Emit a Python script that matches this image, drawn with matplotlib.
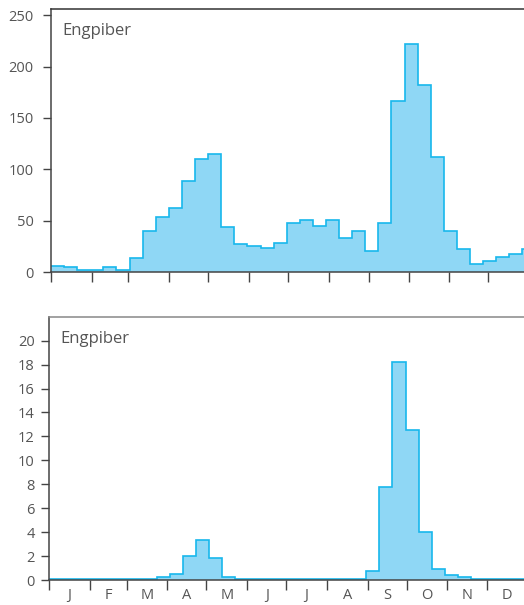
import numpy as np
import matplotlib.pyplot as plt

# 10-day counts across the year (last bin runs past Dec 31)
top_counts = [6, 4.5, 1.5, 1.5, 4.5, 1.5, 14, 40, 54, 62, 89, 110, 115, 44,
              27, 25, 23.5, 28.5, 48, 51, 45, 51, 33, 40, 20.5, 48, 166, 222,
              182, 112, 40, 22.5, 8, 11, 14.5, 17.5, 22.5]
bottom_counts = [0.1, 0.1, 0.1, 0.1, 0.1, 0.1, 0.1, 0.1, 0.25, 0.5, 2.0, 3.35,
                 1.8, 0.25, 0.1, 0.1, 0.1, 0.1, 0.1, 0.1, 0.1, 0.1, 0.1, 0.1,
                 0.75, 7.8, 18.2, 12.5, 4.0, 0.9, 0.4, 0.25, 0.1, 0.1, 0.1,
                 0.1, 0.1]
site = "Engpiber"
month_labels = ["J", "F", "M", "A", "M", "J", "J", "A", "S", "O", "N", "D"]
month_days = [31, 28, 31, 30, 31, 30, 31, 31, 30, 31, 30, 31]

FILL = "#8fd7f5"
EDGE = "#18b7ec"
AXC = "#444444"
TXT = "#555555"

plt.rcParams['font.family'] = ['Open Sans', 'DejaVu Sans']

month_starts = np.concatenate([[0], np.cumsum(month_days)])
month_mids = month_starts[:-1] + np.array(month_days) / 2


def draw_panel(ax, counts, ymax, yticks, ypad, offset=0):
    # bins are 10 days wide; the second series starts its bins a little later
    edges = np.arange(0, 10 * len(counts) + 1, 10) + offset
    edges[0] = 0
    ax.stairs(counts, edges, fill=True, color=FILL, linewidth=0)
    ax.stairs(counts, edges, color=EDGE, linewidth=1.2, baseline=None)
    ax.set_xlim(0, 365)
    ax.set_ylim(0, ymax)
    ax.set_yticks(yticks)
    ax.set_xticks(month_starts[:-1])
    ax.set_xticklabels([])
    ax.spines['right'].set_visible(False)
    for side in ['left', 'bottom', 'top']:
        ax.spines[side].set_color(AXC)
        ax.spines[side].set_linewidth(1.1)
    ax.tick_params(axis='y', direction='out', length=6, width=1, color=AXC,
                   labelsize=10.5, labelcolor=TXT, pad=ypad)
    ax.tick_params(axis='x', direction='out', length=7, width=1, color=AXC)
    ax.text(0.023, 0.90, site, transform=ax.transAxes, fontsize=12,
            color=TXT, ha='left', va='baseline')


fig = plt.figure(figsize=(5.24, 6.05), dpi=100)

ax1 = fig.add_axes([51 / 524, 1 - 272 / 605, 478 / 524, 263 / 605])
draw_panel(ax1, top_counts, 256, [0, 50, 100, 150, 200, 250], 6.5)
ax1.spines['top'].set_color("#333333")

ax2 = fig.add_axes([49.3 / 524, 1 - 580 / 605, 478 / 524, 263.3 / 605])
draw_panel(ax2, bottom_counts, 22, list(range(0, 21, 2)), 4.5, offset=2)
ax2.spines['top'].set_color("#888888")
ax2.set_xticks(month_mids, minor=True)
ax2.set_xticklabels(month_labels, minor=True)
ax2.tick_params(axis='x', which='minor', length=0, labelsize=10.5,
                labelcolor=TXT, pad=6)

fig.savefig("out.png", dpi=100)
